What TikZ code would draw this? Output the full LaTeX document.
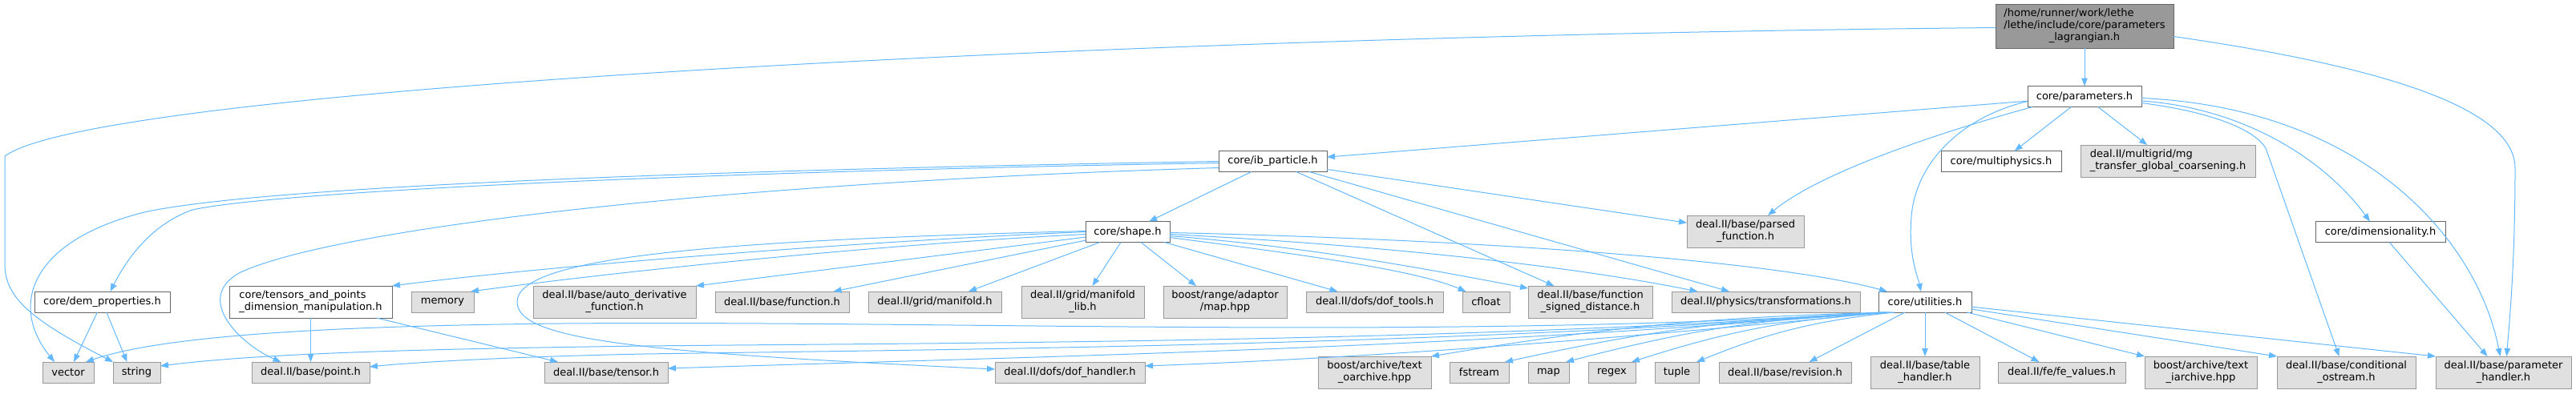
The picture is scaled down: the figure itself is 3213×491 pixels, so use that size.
\documentclass[tikz,border=0pt]{standalone}
\usepackage{fontspec}
\setmainfont{DejaVu Sans}
\usetikzlibrary{arrows.meta}
\definecolor{edgec}{HTML}{63B8FF}
\definecolor{gfill}{HTML}{E0E0E0}
\definecolor{gborder}{HTML}{999999}
\definecolor{wborder}{HTML}{666666}
\definecolor{mfill}{HTML}{999999}
\newcommand\twol[2]{\begin{tabular}{@{}l@{}}#1\\\multicolumn{1}{@{}c@{}}{#2}\end{tabular}}
\newcommand\threel[3]{\begin{tabular}{@{}l@{}}#1\\#2\\\multicolumn{1}{@{}c@{}}{#3}\end{tabular}}
\tikzset{
  nb/.style={rectangle, inner sep=0pt, outer sep=0pt, line width=1pt, font=\fontsize{13}{14.7}\selectfont, text=black},
  gn/.style={nb, fill=gfill, draw=gborder},
  wn/.style={nb, fill=white, draw=wborder},
  mn/.style={nb, fill=mfill, draw=wborder},
  ed/.style={draw=edgec, line width=1pt, -{Triangle[length=10pt,width=7.5pt]}}
}
\begin{document}
\begin{tikzpicture}[x=1pt,y=-1pt]
\useasboundingbox (0,0) rectangle (3213,491);
% ---------- nodes ----------
\node[mn, minimum width=222pt, minimum height=55pt] (main) at (2600,32.5) {\threel{/home/runner/work/lethe}{/lethe/include/core/parameters}{\_lagrangian.h}};
\node[wn, minimum width=142pt, minimum height=26pt] (params) at (2600,120.5) {core/parameters.h};
\node[wn, minimum width=135pt, minimum height=26pt] (ib) at (1587.5,201.5) {core/ib\_particle.h};
\node[wn, minimum width=150pt, minimum height=26pt] (multi) at (2496,201.5) {core/multiphysics.h};
\node[gn, minimum width=218pt, minimum height=40pt] (mg) at (2704,201) {\twol{deal.II/multigrid/mg}{\_transfer\_global\_coarsening.h}};
\node[gn, minimum width=146pt, minimum height=40pt] (parsed) at (2177,289) {\twol{deal.II/base/parsed}{\_function.h}};
\node[wn, minimum width=105pt, minimum height=26pt] (shape) at (1406.5,289.5) {core/shape.h};
\node[wn, minimum width=162pt, minimum height=26pt] (dim) at (2969,289.5) {core/dimensionality.h};
% row 4
\node[wn, minimum width=169pt, minimum height=26pt] (dem) at (127.5,377) {core/dem\_properties.h};
\node[wn, minimum width=203pt, minimum height=40pt] (tensors) at (387.5,377) {\twol{core/tensors\_and\_points}{\_dimension\_manipulation.h}};
\node[gn, minimum width=78pt, minimum height=26pt] (memory) at (552,377) {memory};
\node[gn, minimum width=203pt, minimum height=40pt] (autod) at (766.5,377) {\twol{deal.II/base/auto\_derivative}{\_function.h}};
\node[gn, minimum width=167pt, minimum height=26pt] (function) at (975.5,377) {deal.II/base/function.h};
\node[gn, minimum width=166pt, minimum height=26pt] (manifold) at (1166,377) {deal.II/grid/manifold.h};
\node[gn, minimum width=153pt, minimum height=40pt] (manlib) at (1350.5,377) {\twol{deal.II/grid/manifold}{\_lib.h}};
\node[gn, minimum width=154pt, minimum height=40pt] (adaptor) at (1528,377) {\twol{boost/range/adaptor}{/map.hpp}};
\node[gn, minimum width=171pt, minimum height=26pt] (doftools) at (1714.5,377) {deal.II/dofs/dof\_tools.h};
\node[gn, minimum width=59pt, minimum height=26pt] (cfloat) at (1853.5,377) {cfloat};
\node[gn, minimum width=155pt, minimum height=40pt] (fsd) at (1983.5,377) {\twol{deal.II/base/function}{\_signed\_distance.h}};
\node[gn, minimum width=235pt, minimum height=26pt] (transf) at (2202.5,377) {deal.II/physics/transformations.h};
\node[wn, minimum width=116pt, minimum height=26pt] (util) at (2401,377) {core/utilities.h};
% row 5
\node[gn, minimum width=64pt, minimum height=26pt] (vector) at (85,465) {vector};
\node[gn, minimum width=59pt, minimum height=26pt] (string) at (170.5,465) {string};
\node[gn, minimum width=147pt, minimum height=26pt] (point) at (387.5,465) {deal.II/base/point.h};
\node[gn, minimum width=154pt, minimum height=26pt] (tensor) at (756,465) {deal.II/base/tensor.h};
\node[gn, minimum width=187pt, minimum height=26pt] (dofh) at (1334.5,465) {deal.II/dofs/dof\_handler.h};
\node[gn, minimum width=141pt, minimum height=40pt] (oarch) at (1714.5,465) {\twol{boost/archive/text}{\_oarchive.hpp}};
\node[gn, minimum width=74pt, minimum height=26pt] (fstream) at (1845,465) {fstream};
\node[gn, minimum width=51pt, minimum height=26pt] (map) at (1931.5,465) {map};
\node[gn, minimum width=59pt, minimum height=26pt] (regex) at (2010.5,465) {regex};
\node[gn, minimum width=55pt, minimum height=26pt] (tuple) at (2091.5,465) {tuple};
\node[gn, minimum width=165pt, minimum height=26pt] (revision) at (2226.5,465) {deal.II/base/revision.h};
\node[gn, minimum width=136pt, minimum height=40pt] (table) at (2401,465) {\twol{deal.II/base/table}{\_handler.h}};
\node[gn, minimum width=159pt, minimum height=26pt] (fevals) at (2571.5,465) {deal.II/fe/fe\_values.h};
\node[gn, minimum width=140pt, minimum height=40pt] (iarch) at (2745,465) {\twol{boost/archive/text}{\_iarchive.hpp}};
\node[gn, minimum width=173pt, minimum height=40pt] (costream) at (2926.5,465) {\twol{deal.II/base/conditional}{\_ostream.h}};
\node[gn, minimum width=169pt, minimum height=40pt] (phand) at (3122.5,465) {\twol{deal.II/base/parameter}{\_handler.h}};
% ---------- edges ----------
% main
\draw[ed] (main) -- (params);
\draw[ed] ([yshift=-13pt]main.east) .. controls (2950,80) and (3137,130) .. (3137,210) .. controls (3137,330) and (3130,400) .. ([xshift=4pt]phand.north);
\draw[ed] ([yshift=-2pt]main.west) .. controls (1400,45) and (120,110) .. (6,195) -- (6,330) .. controls (6,372) and (40,400) .. (string.north west);
% parameters
\draw[ed] (params) -- (ib);
\draw[ed] ([xshift=6pt]params.south west) .. controls (2420,165) and (2270,215) .. ([xshift=28pt]parsed.north);
\draw[ed] ([yshift=-6pt]params.west) .. controls (2450,145) and (2390,200) .. (2384,270) .. controls (2380,320) and (2392,345) .. ([xshift=-5pt]util.north);
\draw[ed] (params) -- (multi);
\draw[ed] (params) -- (mg);
\draw[ed] ([yshift=-5.5pt]params.east) .. controls (2800,135) and (2900,200) .. ([xshift=-13pt]dim.north);
\draw[ed] ([yshift=-2pt]params.east) .. controls (2950,135) and (3090,300) .. ([xshift=-4pt]phand.north);
\draw[ed] ([yshift=-8pt]params.east) .. controls (2760,140) and (2812,162) .. (2826,185) -- ([xshift=-9pt]costream.north);
% ib_particle
\draw[ed] (ib.west) .. controls (900,212) and (330,232) .. (180,265) .. controls (40,300) and (10,380) .. ([xshift=-17pt]vector.north);
\draw[ed] ([yshift=-2pt]ib.west) .. controls (900,214) and (350,238) .. (240,262) .. controls (190,280) and (160,320) .. ([xshift=10pt]dem.north);
\draw[ed] ([yshift=-8pt]ib.west) .. controls (900,228) and (420,285) .. (300,340) .. controls (240,372) and (300,430) .. ([xshift=-37pt]point.north);
\draw[ed] (ib) -- (shape);
\draw[ed] (ib) -- (fsd);
\draw[ed] (ib) -- (transf);
\draw[ed] (ib) -- (parsed);
% dem_properties, tensors, dimensionality
\draw[ed] (dem) -- ([xshift=7pt]vector.north);
\draw[ed] (dem) -- ([xshift=-12pt]string.north);
\draw[ed] (tensors) -- (point);
\draw[ed] (tensors) -- ([xshift=-60pt]tensor.north);
\draw[ed] (dim) -- ([xshift=-20pt]phand.north);
% shape
\draw[ed] (shape.west) .. controls (1100,300) and (700,330) .. (tensors.north east);
\draw[ed] ([yshift=-3pt]shape.west) .. controls (1100,305) and (780,338) .. ([xshift=-4pt]memory.north east);
\draw[ed] (shape) -- (autod.north east);
\draw[ed] (shape) -- ([xshift=64pt]function.north);
\draw[ed] (shape) -- ([xshift=42pt]manifold.north);
\draw[ed] (shape) -- ([xshift=12pt]manlib.north);
\draw[ed] (shape) -- ([xshift=-36pt]adaptor.north);
\draw[ed] (shape) -- ([xshift=-46pt]doftools.north);
\draw[ed] ([yshift=-7pt]shape.east) .. controls (1600,315) and (1760,335) .. ([xshift=-25pt]cfloat.north);
\draw[ed] ([yshift=-5pt]shape.east) .. controls (1650,310) and (1800,340) .. ([yshift=-3pt]fsd.north west);
\draw[ed] ([yshift=-3pt]shape.east) .. controls (1700,305) and (1950,330) .. ([xshift=-85pt]transf.north);
\draw[ed] ([yshift=-1pt]shape.east) .. controls (1800,298) and (2200,322) .. ([xshift=-47pt]util.north);
\draw[ed] ([yshift=1pt]shape.west) .. controls (900,300) and (645,320) .. (645,377) .. controls (645,425) and (800,440) .. ([yshift=4pt]dofh.west);
% utilities
\draw[ed] ([xshift=8pt]util.south west) .. controls (1800,425) and (1200,400) .. (700,404) .. controls (400,407) and (200,420) .. ([xshift=22pt]vector.north);
\draw[ed] ([xshift=6pt]util.south west) .. controls (1800,428) and (1200,428) .. (804,432) .. controls (500,436) and (320,442) .. ([yshift=8pt]string.east);
\draw[ed] ([xshift=4pt]util.south west) .. controls (1800,432) and (1200,436) .. (804,442) .. controls (650,445) and (520,452) .. ([yshift=7pt]point.east);
\draw[ed] ([xshift=2pt]util.south west) .. controls (1800,436) and (1300,445) .. ([yshift=5pt]tensor.east);
\draw[ed] ([xshift=10pt]util.south west) .. controls (2000,425) and (1700,447) .. ([yshift=8pt]dofh.east);
\draw[ed] ([xshift=12pt]util.south west) to[bend right=4] (oarch.north east);
\draw[ed] ([xshift=14pt]util.south west) to[bend right=5] ([xshift=-5pt]fstream.north east);
\draw[ed] ([xshift=16pt]util.south west) to[bend right=6] ([xshift=-4pt]map.north east);
\draw[ed] ([xshift=18pt]util.south west) to[bend right=7] ([xshift=-5pt]regex.north east);
\draw[ed] ([xshift=20pt]util.south west) to[bend right=8] ([xshift=-3pt]tuple.north east);
\draw[ed] (util) -- ([xshift=30pt]revision.north);
\draw[ed] (util) -- (table);
\draw[ed] (util) -- ([xshift=-28pt]fevals.north);
\draw[ed] (util) -- (iarch.north west);
\draw[ed] (util) -- (costream.north west);
\draw[ed] (util) -- (phand.north west);
\end{tikzpicture}
\end{document}
